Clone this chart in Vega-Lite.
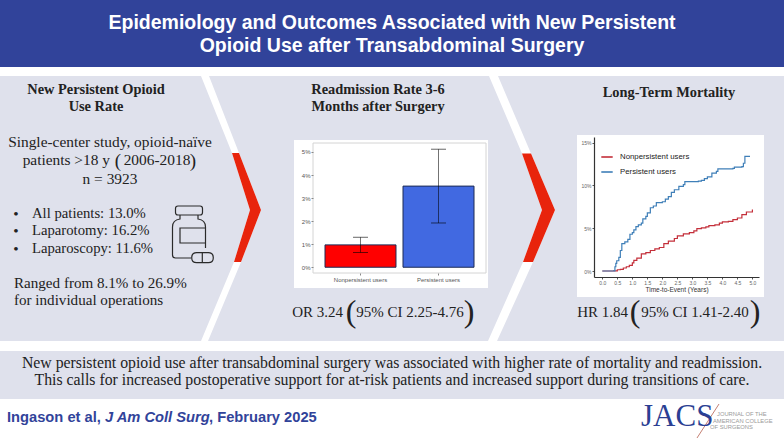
{"$schema":"https://vega.github.io/schema/vega-lite/v6.json","width":784,"height":441,"autosize":"none","padding":0,"background":"#ffffff","view":{"stroke":null},
"config":{"text":{"font":"Liberation Serif","fontSize":15.4,"color":"#222222","baseline":"middle"},"point":{"opacity":1}},
"datasets":{"one":[{"id":1}],
"bars":[{"group":"Nonpersistent users","rate":0.97,"lo":0.64,"hi":1.3},{"group":"Persistent users","rate":3.52,"lo":1.92,"hi":5.12}],
"km":[
{"group":"Nonpersistent users","years":0,"pct":0},{"group":"Nonpersistent users","years":0.38,"pct":0.02},{"group":"Nonpersistent users","years":0.5,"pct":0.15},{"group":"Nonpersistent users","years":0.6,"pct":0.2},{"group":"Nonpersistent users","years":0.7,"pct":0.35},{"group":"Nonpersistent users","years":0.8,"pct":0.5},{"group":"Nonpersistent users","years":0.9,"pct":0.65},{"group":"Nonpersistent users","years":1.0,"pct":0.95},{"group":"Nonpersistent users","years":1.05,"pct":1.25},{"group":"Nonpersistent users","years":1.15,"pct":1.5},{"group":"Nonpersistent users","years":1.3,"pct":2.0},{"group":"Nonpersistent users","years":1.45,"pct":2.15},{"group":"Nonpersistent users","years":1.6,"pct":2.4},{"group":"Nonpersistent users","years":1.75,"pct":2.6},{"group":"Nonpersistent users","years":1.9,"pct":2.75},{"group":"Nonpersistent users","years":2.05,"pct":3.2},{"group":"Nonpersistent users","years":2.2,"pct":3.5},{"group":"Nonpersistent users","years":2.4,"pct":3.8},{"group":"Nonpersistent users","years":2.5,"pct":4.1},{"group":"Nonpersistent users","years":2.7,"pct":4.35},{"group":"Nonpersistent users","years":2.9,"pct":4.5},{"group":"Nonpersistent users","years":3.05,"pct":4.7},{"group":"Nonpersistent users","years":3.15,"pct":4.95},{"group":"Nonpersistent users","years":3.3,"pct":5.05},{"group":"Nonpersistent users","years":3.45,"pct":5.15},{"group":"Nonpersistent users","years":3.55,"pct":5.3},{"group":"Nonpersistent users","years":3.75,"pct":5.4},{"group":"Nonpersistent users","years":3.9,"pct":5.6},{"group":"Nonpersistent users","years":4.0,"pct":5.75},{"group":"Nonpersistent users","years":4.2,"pct":5.8},{"group":"Nonpersistent users","years":4.35,"pct":6.0},{"group":"Nonpersistent users","years":4.5,"pct":6.2},{"group":"Nonpersistent users","years":4.65,"pct":6.6},{"group":"Nonpersistent users","years":4.8,"pct":6.9},{"group":"Nonpersistent users","years":5.0,"pct":7.2},
{"group":"Persistent users","years":0,"pct":0},{"group":"Persistent users","years":0.38,"pct":0.02},{"group":"Persistent users","years":0.42,"pct":0.5},{"group":"Persistent users","years":0.45,"pct":0.9},{"group":"Persistent users","years":0.48,"pct":1.2},{"group":"Persistent users","years":0.55,"pct":1.6},{"group":"Persistent users","years":0.6,"pct":2.4},{"group":"Persistent users","years":0.65,"pct":3.2},{"group":"Persistent users","years":0.75,"pct":3.4},{"group":"Persistent users","years":0.85,"pct":3.7},{"group":"Persistent users","years":0.92,"pct":4.3},{"group":"Persistent users","years":1.0,"pct":4.5},{"group":"Persistent users","years":1.05,"pct":4.8},{"group":"Persistent users","years":1.12,"pct":5.2},{"group":"Persistent users","years":1.2,"pct":5.4},{"group":"Persistent users","years":1.3,"pct":5.6},{"group":"Persistent users","years":1.35,"pct":6.1},{"group":"Persistent users","years":1.45,"pct":6.4},{"group":"Persistent users","years":1.5,"pct":6.8},{"group":"Persistent users","years":1.6,"pct":7.4},{"group":"Persistent users","years":1.7,"pct":7.6},{"group":"Persistent users","years":1.8,"pct":8.0},{"group":"Persistent users","years":2.0,"pct":8.1},{"group":"Persistent users","years":2.1,"pct":8.4},{"group":"Persistent users","years":2.2,"pct":8.7},{"group":"Persistent users","years":2.3,"pct":9.2},{"group":"Persistent users","years":2.4,"pct":9.5},{"group":"Persistent users","years":2.55,"pct":9.9},{"group":"Persistent users","years":2.7,"pct":10.1},{"group":"Persistent users","years":2.75,"pct":10.45},{"group":"Persistent users","years":3.2,"pct":10.5},{"group":"Persistent users","years":3.3,"pct":10.6},{"group":"Persistent users","years":3.4,"pct":10.8},{"group":"Persistent users","years":3.5,"pct":11.0},{"group":"Persistent users","years":3.65,"pct":11.45},{"group":"Persistent users","years":3.8,"pct":11.65},{"group":"Persistent users","years":3.85,"pct":11.95},{"group":"Persistent users","years":4.35,"pct":12.0},{"group":"Persistent users","years":4.4,"pct":12.15},{"group":"Persistent users","years":4.65,"pct":12.2},{"group":"Persistent users","years":4.7,"pct":12.6},{"group":"Persistent users","years":4.75,"pct":13.4},{"group":"Persistent users","years":4.92,"pct":13.4}
]},
"resolve":{"scale":{"x":"independent","y":"independent","color":"independent"},"axis":{"x":"independent","y":"independent"},"legend":{"color":"independent"}},
"layer":[
{"data":{"name":"one"},"mark":{"type":"point","x":0,"y":0,"size":4,"filled":true,"fill":"#31439a","stroke":null,"shape":"M0,0H784V67H0Z"}},
{"data":{"name":"one"},"mark":{"type":"point","x":0,"y":0,"size":4,"filled":true,"fill":"#dfe1ec","stroke":null,"shape":"M0,76H784V341H0ZM0,351H784V399H0Z"}},
{"data":{"name":"one"},"mark":{"type":"point","x":0,"y":0,"size":4,"filled":true,"fill":"#ffffff","stroke":null,"shape":"M201,76H209L239,153L261,210L241,262L208,341H201L234,262L250,210L232,153ZM489,76H498L531,153.5L555,210L533,262L497,341H488L523,262L542,210L522,153.5Z"}},
{"data":{"name":"one"},"mark":{"type":"point","x":0,"y":0,"size":4,"filled":true,"fill":"#e8240c","stroke":null,"shape":"M232,153H239L261,210L241,262H234L250,210ZM522,153.5H531L555,210L533,262H523L542,210Z"}},
{"data":{"name":"one"},"mark":{"type":"point","x":0,"y":0,"size":4,"filled":true,"fill":"#ffffff","stroke":null,"shape":"M294,140H488V288H294ZM577,135H764V297H577Z"}},
{"data":{"name":"one"},"mark":{"type":"point","x":0,"y":0,"size":4,"filled":false,"stroke":"#d4d4d4","strokeWidth":1,"shape":"M313,143H486V273H313Z"}},
{"data":{"name":"one"},"mark":{"type":"point","x":0,"y":0,"size":4,"filled":false,"stroke":"#2a2a2a","strokeWidth":1.2,"shape":"M178,206H200Q202.5,206 202.5,208.5V212.5Q202.5,215 200,215H178Q175.5,215 175.5,212.5V208.5Q175.5,206 178,206ZM180,215V219Q172.5,220 172.5,227V255Q172.5,258 175.5,258H191M198,215V219Q205.5,220 205.5,227V248M205.5,228H180V243H205.5M196.7,252.7H208.3Q213.3,252.7 213.3,257.7Q213.3,262.7 208.3,262.7H196.7Q191.7,262.7 191.7,257.7Q191.7,252.7 196.7,252.7ZM202.3,252.7V262.7"}},
{"data":{"name":"one"},"mark":{"type":"point","x":0,"y":0,"size":4,"filled":false,"stroke":"#b5604f","strokeWidth":0.8,"shape":"M719,404L697,438"}},

{"data":{"name":"bars"},"layer":[
{"mark":{"type":"bar","stroke":"#1c2a55","strokeWidth":1},"encoding":{"x":{"field":"group","type":"nominal","title":null,"scale":{"range":[325,474],"paddingInner":0.09,"paddingOuter":0},"axis":{"orient":"bottom","offset":-168,"zindex":1,"domain":false,"ticks":true,"tickSize":2,"tickColor":"#888888","labelAngle":0,"labelFont":"Liberation Sans","labelFontSize":6,"labelColor":"#555555","labelPadding":1,"grid":false}},"y":{"field":"rate","type":"quantitative","title":null,"scale":{"domain":[-0.25,5.39],"range":[273,143],"nice":false,"zero":false},"axis":{"orient":"left","offset":-313,"zindex":1,"domain":false,"values":[0,1,2,3,4,5],"labelExpr":"datum.value + '%'","tickSize":2,"tickColor":"#888888","labelFont":"Liberation Sans","labelFontSize":6,"labelColor":"#555555","labelPadding":1,"grid":false}},"color":{"field":"group","type":"nominal","legend":null,"scale":{"domain":["Nonpersistent users","Persistent users"],"range":["#ff0000","#4169e1"]}}}},
{"mark":{"type":"rule","color":"#000000","opacity":0.55,"strokeWidth":1},"encoding":{"x":{"field":"group","type":"nominal"},"y":{"field":"lo","type":"quantitative"},"y2":{"field":"hi"}}},
{"mark":{"type":"tick","orient":"horizontal","size":15,"thickness":1,"color":"#000000","opacity":0.6},"encoding":{"x":{"field":"group","type":"nominal"},"y":{"field":"lo","type":"quantitative"}}},
{"mark":{"type":"tick","orient":"horizontal","size":15,"thickness":1,"color":"#000000","opacity":0.6},"encoding":{"x":{"field":"group","type":"nominal"},"y":{"field":"hi","type":"quantitative"}}}
]},

{"data":{"name":"km"},"mark":{"type":"line","interpolate":"step-after","strokeWidth":1.2},"encoding":{"x":{"field":"years","type":"quantitative","title":"Time-to-Event (Years)","scale":{"domain":[-0.277,5.22],"range":[594,759],"nice":false,"zero":false},"axis":{"orient":"bottom","offset":-164,"zindex":1,"domain":true,"domainColor":"#333333","domainWidth":1.2,"values":[0,0.5,1,1.5,2,2.5,3,3.5,4,4.5,5],"format":".1f","tickSize":2,"tickColor":"#555555","labelFont":"Liberation Sans","labelFontSize":5,"labelColor":"#666666","labelPadding":1,"labelOverlap":false,"titleFont":"Liberation Sans","titleFontSize":6.5,"titleFontWeight":"normal","titleColor":"#333333","titlePadding":1,"grid":false}},"y":{"field":"pct","type":"quantitative","title":null,"scale":{"domain":[-0.7,15.67],"range":[277,137],"nice":false,"zero":false},"axis":{"orient":"left","offset":-594,"zindex":1,"domain":true,"domainColor":"#333333","domainWidth":1.2,"values":[0,5,10,15],"labelExpr":"datum.value + '%'","tickSize":2,"tickColor":"#555555","labelFont":"Liberation Sans","labelFontSize":5,"labelColor":"#666666","labelPadding":1,"grid":false}},"color":{"field":"group","type":"nominal","scale":{"domain":["Nonpersistent users","Persistent users"],"range":["#c42f3a","#3f7fb8"]},"legend":{"orient":"none","legendX":600,"legendY":150,"title":null,"symbolType":"stroke","symbolSize":130,"symbolStrokeWidth":1.6,"labelFont":"Liberation Sans","labelFontSize":7.8,"labelColor":"#222222","labelOffset":6,"rowPadding":4,"padding":0}}}},

{"data":{"name":"one"},"mark":{"type":"text","x":392,"y":23,"text":"Epidemiology and Outcomes Associated with New Persistent","font":"Liberation Sans","fontWeight":"bold","fontSize":19.5,"color":"#ffffff","align":"center"}},
{"data":{"name":"one"},"mark":{"type":"text","x":392,"y":46,"text":"Opioid Use after Transabdominal Surgery","font":"Liberation Sans","fontWeight":"bold","fontSize":19.5,"color":"#ffffff","align":"center"}},

{"data":{"name":"one"},"mark":{"type":"text","x":96,"y":90,"text":"New Persistent Opioid","fontSize":14.4,"fontWeight":"bold","align":"center"}},
{"data":{"name":"one"},"mark":{"type":"text","x":96,"y":107,"text":"Use Rate","fontSize":14.4,"fontWeight":"bold","align":"center"}},
{"data":{"name":"one"},"mark":{"type":"text","x":110,"y":142,"text":"Single-center study, opioid-naïve","align":"center"}},
{"data":{"name":"one"},"mark":{"type":"text","x":110,"y":160,"text":"patients >18 y","align":"right"}},
{"data":{"name":"one"},"mark":{"type":"text","x":118,"y":161,"text":"(","align":"center","fontSize":19}},
{"data":{"name":"one"},"mark":{"type":"text","x":157,"y":160,"text":"2006-2018","align":"center"}},
{"data":{"name":"one"},"mark":{"type":"text","x":193,"y":161,"text":")","align":"center","fontSize":19}},
{"data":{"name":"one"},"mark":{"type":"text","x":110,"y":179,"text":"n = 3923","align":"center"}},
{"data":{"name":"one"},"mark":{"type":"text","x":16,"y":214,"text":"•","align":"center"}},
{"data":{"name":"one"},"mark":{"type":"text","x":16,"y":231,"text":"•","align":"center"}},
{"data":{"name":"one"},"mark":{"type":"text","x":16,"y":249,"text":"•","align":"center"}},
{"data":{"name":"one"},"mark":{"type":"text","x":32,"y":214,"text":"All patients: 13.0%","align":"left","fontSize":14.7}},
{"data":{"name":"one"},"mark":{"type":"text","x":32,"y":231,"text":"Laparotomy: 16.2%","align":"left","fontSize":14.7}},
{"data":{"name":"one"},"mark":{"type":"text","x":32,"y":249,"text":"Laparoscopy: 11.6%","align":"left","fontSize":14.7}},
{"data":{"name":"one"},"mark":{"type":"text","x":14,"y":283,"text":"Ranged from 8.1% to 26.9%","align":"left","fontSize":15.1}},
{"data":{"name":"one"},"mark":{"type":"text","x":14,"y":300,"text":"for individual operations","align":"left","fontSize":15.1}},

{"data":{"name":"one"},"mark":{"type":"text","x":378,"y":90,"text":"Readmission Rate 3-6","fontSize":14.4,"fontWeight":"bold","align":"center"}},
{"data":{"name":"one"},"mark":{"type":"text","x":378,"y":107,"text":"Months after Surgery","fontSize":14.4,"fontWeight":"bold","align":"center"}},
{"data":{"name":"one"},"mark":{"type":"text","x":343,"y":312,"text":"OR 3.24","align":"right","fontSize":15}},
{"data":{"name":"one"},"mark":{"type":"text","x":351,"y":312,"text":"(","align":"center","fontSize":32}},
{"data":{"name":"one"},"mark":{"type":"text","x":410,"y":312,"text":"95% CI 2.25-4.76","align":"center","fontSize":15}},
{"data":{"name":"one"},"mark":{"type":"text","x":469,"y":312,"text":")","align":"center","fontSize":32}},

{"data":{"name":"one"},"mark":{"type":"text","x":669,"y":93,"text":"Long-Term Mortality","fontSize":14.4,"fontWeight":"bold","align":"center"}},
{"data":{"name":"one"},"mark":{"type":"text","x":628,"y":312,"text":"HR 1.84","align":"right","fontSize":15}},
{"data":{"name":"one"},"mark":{"type":"text","x":635,"y":312,"text":"(","align":"center","fontSize":32}},
{"data":{"name":"one"},"mark":{"type":"text","x":695,"y":312,"text":"95% CI 1.41-2.40","align":"center","fontSize":15}},
{"data":{"name":"one"},"mark":{"type":"text","x":755,"y":312,"text":")","align":"center","fontSize":32}},

{"data":{"name":"one"},"mark":{"type":"text","x":392,"y":363,"text":"New persistent opioid use after transabdominal surgery was associated with higher rate of mortality and readmission.","align":"center","fontSize":15.8}},
{"data":{"name":"one"},"mark":{"type":"text","x":392,"y":380,"text":"This calls for increased postoperative support for at-risk patients and increased support during transitions of care.","align":"center","fontSize":15.8}},

{"data":{"name":"one"},"mark":{"type":"text","x":7,"y":418,"text":"Ingason et al,","font":"Liberation Sans","fontWeight":"bold","fontSize":14.7,"color":"#31439a","align":"left"}},
{"data":{"name":"one"},"mark":{"type":"text","x":105,"y":418,"text":"J Am Coll Surg","font":"Liberation Sans","fontWeight":"bold","fontStyle":"italic","fontSize":14.7,"color":"#31439a","align":"left"}},
{"data":{"name":"one"},"mark":{"type":"text","x":209,"y":418,"text":", February 2025","font":"Liberation Sans","fontWeight":"bold","fontSize":14.7,"color":"#31439a","align":"left"}},

{"data":{"name":"one"},"mark":{"type":"text","x":641,"y":417,"text":"JACS","fontSize":31,"color":"#2b3f93","align":"left"}},
{"data":{"name":"one"},"mark":{"type":"text","x":717,"y":414,"text":"JOURNAL OF THE","font":"Liberation Sans","fontSize":5.8,"color":"#9a9a9a","align":"left"}},
{"data":{"name":"one"},"mark":{"type":"text","x":713,"y":420.5,"text":"AMERICAN COLLEGE","font":"Liberation Sans","fontSize":5.8,"color":"#9a9a9a","align":"left"}},
{"data":{"name":"one"},"mark":{"type":"text","x":710,"y":427,"text":"OF SURGEONS","font":"Liberation Sans","fontSize":5.8,"color":"#9a9a9a","align":"left"}}
]}
